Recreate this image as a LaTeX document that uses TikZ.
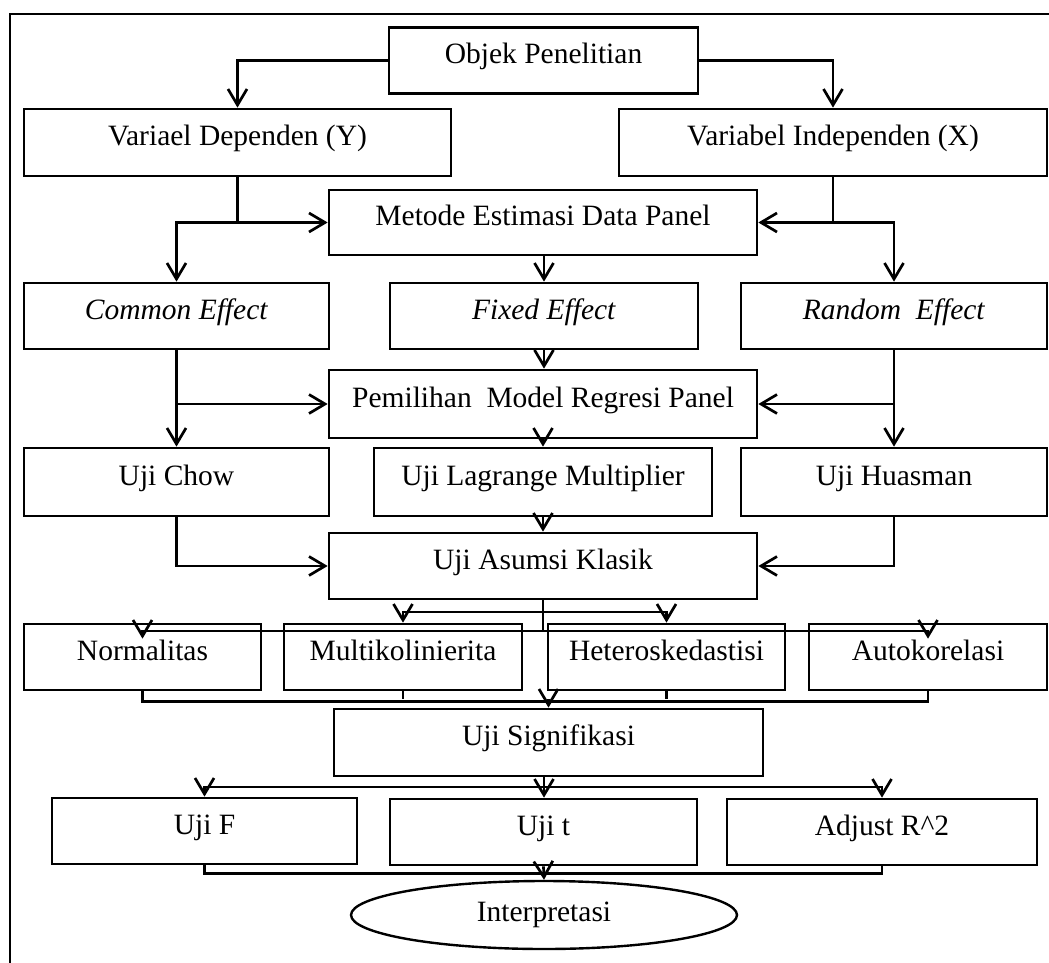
\documentclass[tikz,border=0pt]{standalone}
\usepackage{fontspec}
\setmainfont{Liberation Serif}
\usetikzlibrary{arrows.meta,calc,positioning,shapes.geometric}
\tikzset{
  every node/.style={font=\fontsize{29.5}{34}\selectfont, text=black},
  box/.style={draw=black, line width=2.7pt, rectangle, inner sep=0pt, minimum height=66pt, text height=20pt, text depth=14pt},
  oval/.style={draw=black, line width=2.4pt, ellipse, inner sep=0pt, minimum width=386pt, minimum height=68pt},
  link/.style={draw=black, line width=2.7pt},
  flow/.style={-{Straight Barb[length=16pt,width=19pt,line width=2.7pt]}, draw=black, line width=2.7pt},
}

\begin{document}
\begin{tikzpicture}[x=1pt,y=-1pt]
  \clip (0,0) rectangle (1049,963);
  % outer frame
  \draw[link] (10,14) rectangle (1070,990);
  % boxes
  \node[box, minimum width=309pt] (objek) at (543.5,60.5) {Objek Penelitian};
  \node[box, minimum width=427pt, minimum height=67pt] (dep) at (237.5,142.5) {Variael Dependen (Y)};
  \node[box, minimum width=428pt, minimum height=67pt] (indep) at (833,142.5) {Variabel Independen (X)};
  \node[box, minimum width=428pt, minimum height=65pt] (metode) at (543,222.5) {Metode Estimasi Data Panel};
  \node[box, minimum width=305pt] (common) at (176.5,316) {\textit{Common Effect}};
  \node[box, minimum width=308pt] (fixed) at (544,316) {\textit{Fixed Effect}};
  \node[box, minimum width=306pt] (random) at (894,316) {\textit{Random\ \ Effect}};
  \node[box, minimum width=428pt, minimum height=68pt] (pemilihan) at (543,404) {Pemilihan\ \ Model Regresi Panel};
  \node[box, minimum width=305pt, minimum height=68pt] (chow) at (176.5,482) {Uji Chow};
  \node[box, minimum width=338pt, minimum height=68pt] (lagrange) at (543,482) {Uji Lagrange Multiplier};
  \node[box, minimum width=306pt, minimum height=68pt] (huasman) at (894,482) {Uji Huasman};
  \node[box, minimum width=428pt] (asumsi) at (543,566) {Uji Asumsi Klasik};
  \node[box, minimum width=237pt] (normal) at (142.5,657) {Normalitas};
  \node[box, minimum width=238pt] (multi) at (403,657) {Multikolinierita};
  \node[box, minimum width=237pt] (hetero) at (666.5,657) {Heteroskedastisi};
  \node[box, minimum width=238pt] (auto) at (928,657) {Autokorelasi};
  \node[box, minimum width=429pt, minimum height=67pt] (signif) at (548.5,742.5) {Uji Signifikasi};
  \node[box, minimum width=305pt] (ujif) at (204.5,831) {Uji F};
  \node[box, minimum width=307pt] (ujit) at (543.5,832) {Uji t};
  \node[box, minimum width=310pt] (adjust) at (882,832) {Adjust R\^{}2};
  \node[oval] (interp) at (544,915) {Interpretasi};
  % split points
  \coordinate (spl1) at (543,612);
  \coordinate (spl2) at (543,631);
  \coordinate (mrg) at (548.5,699);
  \coordinate (spl3) at (544,787);
  % connectors
  \draw[flow] (objek.west) -| (dep.north);
  \draw[flow] (objek.east) -| (indep.north);
  \draw[flow] (dep.south) |- (metode.west);
  \draw[flow] (dep.south |- metode.west) -| (common.north);
  \draw[flow] (indep.south) |- (metode.east);
  \draw[flow] (indep.south |- metode.east) -| (random.north);
  \draw[flow] (metode.south -| fixed.north) -- (fixed.north);
  \draw[flow] (fixed.south) -- (fixed.south |- pemilihan.north);
  \draw[flow] (common.south) -- (chow.north);
  \draw[flow] (common.south |- pemilihan.west) -- (pemilihan.west);
  \draw[flow] (random.south) -- (huasman.north);
  \draw[flow] (random.south |- pemilihan.east) -- (pemilihan.east);
  \draw[flow] (pemilihan.south) -- (pemilihan.south |- lagrange.north);
  \draw[flow] (lagrange.south) -- (asumsi.north);
  \draw[flow] (chow.south) |- (asumsi.west);
  \draw[flow] (huasman.south) |- (asumsi.east);
  \draw[link] (asumsi.south) -- (spl2);
  \draw[flow] (spl1) -| (multi.north);
  \draw[flow] (spl1) -| (hetero.north);
  \draw[flow] (spl2) -| ([yshift=-16pt]normal.north);
  \draw[flow] (spl2) -| ([yshift=-16pt]auto.north);
  \draw[link] (normal.south) -- ++(0,10) -| (auto.south);
  \draw[link] (multi.south) -- (multi.south |- mrg);
  \draw[link] (hetero.south) -- (hetero.south |- mrg);
  \draw[flow, line width=3.8pt] (mrg) -- (signif.north);
  \draw[link] (signif.south -| spl3) -- (spl3);
  \draw[flow] (spl3) -| (ujif.north);
  \draw[flow] (spl3) -| (adjust.north);
  \draw[flow] (spl3) -- (spl3 |- ujit.north);
  \draw[link] (ujif.south) -- ++(0,8) -| (adjust.south);
  \draw[flow] (ujit.south) -- (interp.north);
\end{tikzpicture}
\end{document}
